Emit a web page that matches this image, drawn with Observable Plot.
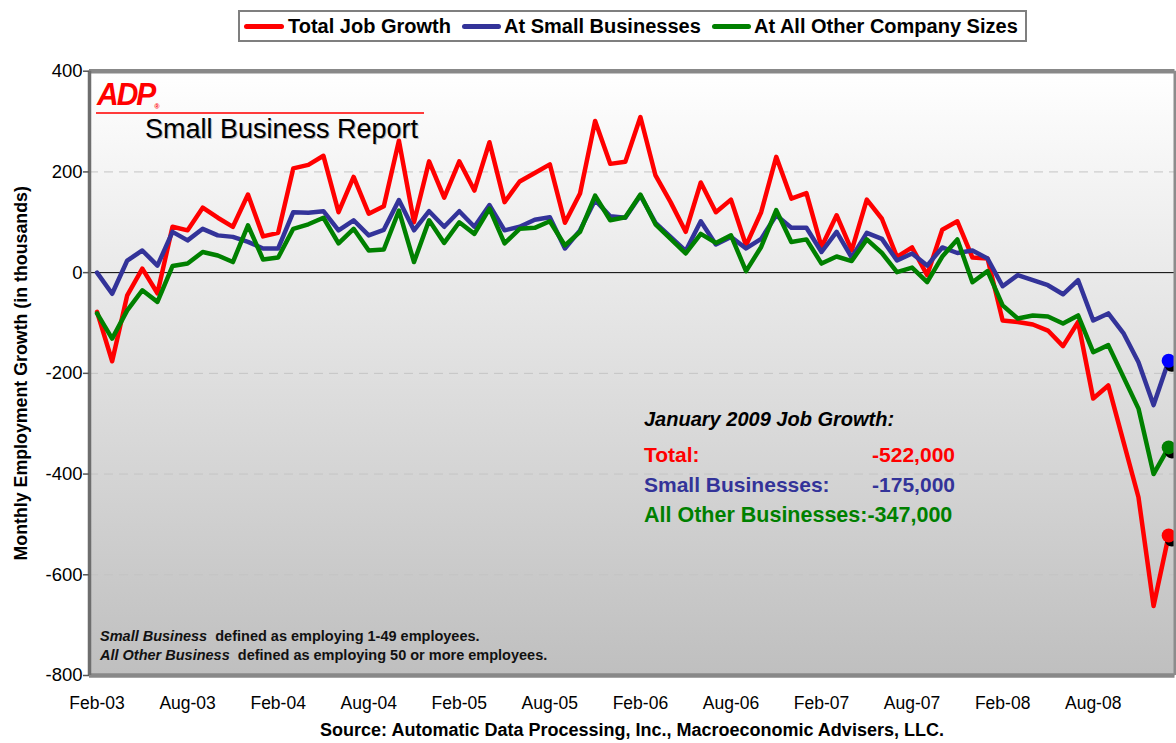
<!DOCTYPE html>
<html><head><meta charset="utf-8">
<script src="https://cdn.jsdelivr.net/npm/d3@7"></script>
<script src="https://cdn.jsdelivr.net/npm/@observablehq/plot@0.6"></script>
<style>
body{margin:0;background:#fff;font-family:Arial,"Liberation Sans",sans-serif;}
#wrap{position:relative;width:1176px;height:743px;overflow:hidden;background:#fff;}
#legend{position:relative;height:52px;}
#legend .box{position:absolute;left:238px;top:10px;width:785px;height:28px;border:2px solid #7f7f7f;}
#legend .sw{position:absolute;height:5px;border-radius:3px;top:24px;}
#legend .lt{position:absolute;top:10px;line-height:32px;font-size:20px;font-weight:bold;color:#000;white-space:nowrap;}
#chart svg{display:block;}
#source{height:23px;line-height:23px;text-align:center;font-size:18px;font-weight:bold;color:#000;position:relative;left:44px;top:-1px;}
.ov{position:absolute;white-space:nowrap;}
</style></head><body>
<div id="wrap">
  <div id="legend">
    <div class="box"></div>
    <div class="sw" style="left:244px;width:40px;background:#ff0000"></div>
    <div class="lt" style="left:288px">Total Job Growth</div>
    <div class="sw" style="left:462px;width:39px;background:#333399"></div>
    <div class="lt" style="left:504px">At Small Businesses</div>
    <div class="sw" style="left:712px;width:39px;background:#008000"></div>
    <div class="lt" style="left:754px">At All Other Company Sizes</div>
  </div>
  <div id="chart"></div>
  <div id="source">Source: Automatic Data Processing, Inc., Macroeconomic Advisers, LLC.</div>

  <div class="ov" style="left:97px;top:80px;font-size:30px;line-height:30px;font-weight:900;font-style:italic;color:#ff0000;letter-spacing:-2px;transform:scaleY(1.05);">ADP<span style="font-size:7px;letter-spacing:0;vertical-align:-4px;">®</span></div>
  <div class="ov" style="left:96px;top:112px;width:328px;height:2px;background:#ff3b3b;"></div>
  <div class="ov" style="left:145px;top:116px;font-size:27px;line-height:27px;color:#000;text-shadow:1px 1px 0 #bbb;">Small Business Report</div>

  <div class="ov" style="left:644px;top:409px;font-size:20px;line-height:20px;font-weight:bold;font-style:italic;color:#000;">January 2009 Job Growth:</div>
  <div class="ov" style="left:644px;top:444px;width:311px;display:flex;justify-content:space-between;font-size:21px;line-height:21px;font-weight:bold;color:#ff0000;"><span>Total:</span><span id="vTotal"></span></div>
  <div class="ov" style="left:644px;top:474px;width:311px;display:flex;justify-content:space-between;font-size:21px;line-height:21px;font-weight:bold;color:#333399;"><span>Small Businesses:</span><span id="vSmall"></span></div>
  <div class="ov" style="left:644px;top:504.5px;font-size:21.5px;line-height:21px;font-weight:bold;color:#008000;"><span>All Other Businesses:</span><span id="vOther"></span></div>

  <div class="ov" style="left:100px;top:629px;font-size:14.5px;line-height:14px;font-weight:bold;color:#111;"><i>Small Business</i>&nbsp; defined as employing 1-49 employees.</div>
  <div class="ov" style="left:100px;top:648px;font-size:14.5px;line-height:14px;font-weight:bold;color:#111;"><i>All Other Business</i>&nbsp; defined as employing 50 or more employees.</div>
</div>
<script>
// Monthly employment growth (thousands), Feb-03 .. Jan-09
const total = [-78,-176,-45,8,-41,91,84,129,109,91,155,72,79,207,214,232,120,190,117,132,
  262,100,221,149,221,163,259,140,181,198,215,99,157,301,216,220,309,193,140,81,
  179,120,145,54,120,230,147,158,51,114,44,145,107,31,50,-5,85,102,30,28,
  -95,-98,-103,-115,-146,-98,-250,-224,-335,-446,-662,-522];
const small = [0,-42,24,44,14,81,64,87,74,71,61,48,48,120,119,122,84,104,74,85,
  144,84,122,91,122,91,134,84,91,105,110,48,84,144,112,109,153,99,71,43,
  102,56,71,48,67,114,89,89,41,81,30,79,67,24,38,14,50,39,44,28,
  -27,-5,-15,-25,-43,-15,-95,-81,-120,-178,-263,-175];
const other = [-81,-131,-75,-35,-58,13,18,41,34,21,94,26,30,87,96,109,58,87,44,46,
  123,21,104,59,100,77,127,58,87,89,102,54,81,153,104,110,155,96,67,38,
  77,59,74,3,51,124,61,66,18,32,23,66,39,1,10,-19,32,66,-19,3,
  -65,-91,-85,-87,-101,-85,-158,-144,-207,-270,-400,-347];
const tickLabels = ["Feb-03","Aug-03","Feb-04","Aug-04","Feb-05","Aug-05","Feb-06","Aug-06","Feb-07","Aug-07","Feb-08","Aug-08"];
const yTicks = [400,200,0,-200,-400,-600,-800];
const gridVals = [200,-200,-400,-600];
const janValues = {total: -522000, small: -175000, other: -347000};

const fmt = v => "-" + d3.format(",")(Math.abs(v));
document.getElementById("vTotal").textContent = fmt(janValues.total);
document.getElementById("vSmall").textContent = fmt(janValues.small);
document.getElementById("vOther").textContent = fmt(janValues.other);

const rows = total.map((t, i) => ({i, total: t, small: small[i], other: other[i]}));
const lastI = total.length - 1;
const ends = [
  {i: lastI, v: small[lastI], c: "#0000ff"},
  {i: lastI, v: other[lastI], c: "#008000"},
  {i: lastI, v: total[lastI], c: "#ff0000"}
];
const xLo = -0.5, xHi = 71.42;

const chart = Plot.plot({
  width: 1176, height: 668,
  marginLeft: 89, marginRight: 1.5, marginTop: 18.7, marginBottom: 45,
  x: {domain: [xLo, xHi]},
  y: {domain: [-800, 400]},
  style: {fontFamily: 'Arial, "Liberation Sans", sans-serif', background: "transparent", color: "#000"},
  marks: [
    Plot.frame({fill: "url(#bg)", stroke: null}),
    Plot.ruleY(gridVals, {stroke: "#c4c4c4", strokeDasharray: "9,6", strokeWidth: 1}),
    Plot.ruleY([0], {stroke: "#000", strokeWidth: 1}),
    Plot.line(rows, {x: "i", y: "total", stroke: "#ff0000", strokeWidth: 4.5}),
    Plot.line(rows, {x: "i", y: "small", stroke: "#333399", strokeWidth: 4.5}),
    Plot.line(rows, {x: "i", y: "other", stroke: "#008000", strokeWidth: 4.5}),
    Plot.dot(ends, {x: "i", y: "v", r: 7, fill: "#000", dx: 3, dy: 4}),
    Plot.dot(ends, {x: "i", y: "v", r: 7, fill: d => d.c}),
    Plot.ruleY([400], {stroke: "#888", strokeWidth: 4.4}),
    Plot.ruleY([-800], {stroke: "#888", strokeWidth: 4.4}),
    Plot.ruleX([xLo], {stroke: "#6e6e6e", strokeWidth: 3.5}),
    Plot.ruleX([xHi], {stroke: "#8c8c8c", strokeWidth: 3}),
    Plot.axisY({ticks: yTicks, tickFormat: d => String(d), tickSize: 6, tickPadding: 1, fontSize: 18.5, label: null, stroke: "#555", strokeWidth: 1.5}),
    Plot.axisX({ticks: tickLabels.map((_, k) => k * 6), tickFormat: d => tickLabels[Math.round(d / 6)], tickSize: 0, tickPadding: 21, fontSize: 17.5, label: null}),
    Plot.text(["Monthly Employment Growth (in thousands)"], {text: d => d, frameAnchor: "left", textAnchor: "middle", rotate: -90, dx: -68, fontSize: 17.8, fontWeight: "bold", fill: "#000"})
  ]
});

const svg = d3.select(chart);
const defs = svg.insert("defs", ":first-child");
const lg = defs.append("linearGradient").attr("id", "bg").attr("x1", 0).attr("y1", 0).attr("x2", 0).attr("y2", 1);
lg.append("stop").attr("offset", "0").attr("stop-color", "#ffffff");
lg.append("stop").attr("offset", "1").attr("stop-color", "#bfbfbf");

document.getElementById("chart").appendChild(chart);
</script>
</body></html>
